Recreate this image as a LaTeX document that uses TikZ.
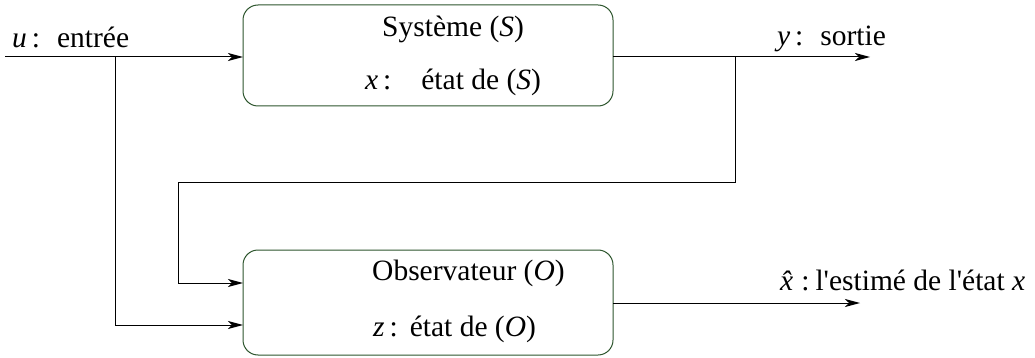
\documentclass[tikz,border=0pt]{standalone}
\usepackage{fontspec}
\setmainfont{Liberation Serif}
\usetikzlibrary{arrows.meta}
\begin{document}
\begin{tikzpicture}[x=1pt,y=-1pt,
  blk/.style={draw=boxgreen, line width=1pt, rounded corners=15pt},
  lbl/.style={inner sep=0pt, anchor=base west, font=\fontsize{29.5}{34}\selectfont},
  wire/.style={line width=1pt},
  arr/.style={wire, -{Stealth[length=15pt,width=8pt,inset=4pt]}}]
\definecolor{boxgreen}{RGB}{45,85,45}
\useasboundingbox (0,0) rectangle (1035,358);
% blocks
\draw[blk] (243,5) rectangle (613,106);
\draw[blk] (243,250) rectangle (613,355);
\node[lbl] (ts) at (382,37) {Système (\textit{S})};
\node[lbl] (tx) at (365,90) {\textit{x}\,:\hspace{30pt}état de (\textit{S})};
\node[lbl] (to) at (372,280) {Observateur (\textit{O})};
\node[lbl] (tz) at (373,336) {\textit{z}\,:\hspace{12pt}état de (\textit{O})};
% coordinates
\coordinate (in) at (5,57);
\coordinate (sIn) at (243,57);
\coordinate (bu) at (115,57);
\coordinate (oIn2) at (243,325);
\coordinate (sOut) at (613,57);
\coordinate (yEnd) at (870,57);
\coordinate (by) at (735,57);
\coordinate (oIn1) at (243,283);
\coordinate (oOut) at (613,303);
\coordinate (xEnd) at (860,303);
% labels
\node[lbl] (lu) at (12,48) {\textit{u}\,:\hspace{17pt}entrée};
\node[lbl] (ly) at (777,46) {\textit{y}\,:\hspace{17pt}sortie};
\node[lbl] (lx) at (780,290) {\textit{\^x}\hspace{-3pt}:\hspace{6pt}l\textquotesingle estimé de l\textquotesingle état \textit{x}};
% connectors
\draw[arr] (in) -- (sIn);
\draw[arr] (bu) |- (oIn2);
\draw[arr] (sOut) -- (yEnd);
\draw[arr] (by) -- (735,183) -- (178,183) |- (oIn1);
\draw[arr] (oOut) -- (xEnd);
\end{tikzpicture}
\end{document}
